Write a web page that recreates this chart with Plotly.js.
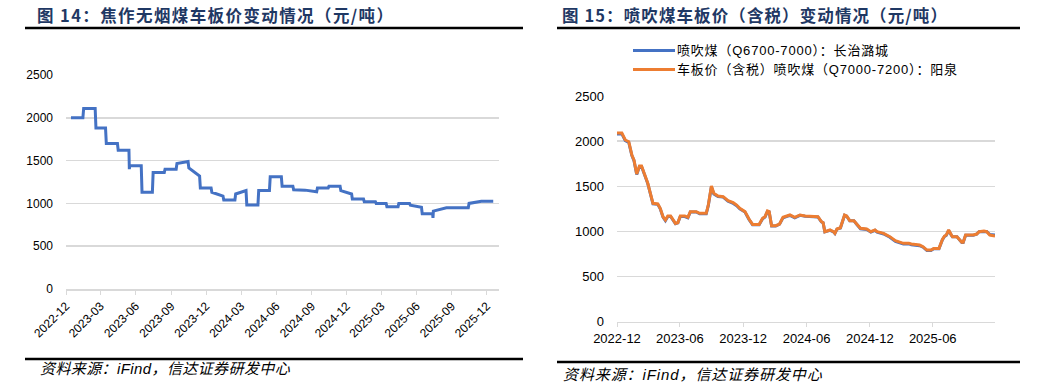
<!DOCTYPE html>
<html><head><meta charset="utf-8">
<script src="https://cdn.plot.ly/plotly-3.0.1.min.js"></script>
<style>
html,body{margin:0;padding:0;background:#fff;}
#chart{width:1043px;height:391px;}
</style>
</head><body><div id="chart"></div>
<script>
// ---- Data: Figure 14 (焦作无烟煤车板价, 元/吨)
const leftDates = ['2022-12-14','2023-01-14','2023-01-16','2023-02-15','2023-02-17','2023-03-14','2023-03-16','2023-04-14','2023-04-16','2023-05-14','2023-05-15','2023-05-16','2023-06-15','2023-06-17','2023-07-14','2023-07-16','2023-08-14','2023-08-16','2023-09-14','2023-09-16','2023-10-15','2023-10-17','2023-11-14','2023-11-16','2023-12-14','2023-12-16','2024-01-14','2024-01-16','2024-02-14','2024-02-16','2024-03-14','2024-03-16','2024-04-14','2024-04-16','2024-05-14','2024-05-16','2024-06-14','2024-06-16','2024-07-14','2024-07-16','2024-08-15','2024-09-14','2024-09-16','2024-10-14','2024-10-16','2024-11-14','2024-11-16','2024-12-14','2024-12-16','2025-01-14','2025-01-16','2025-02-14','2025-02-16','2025-03-14','2025-03-16','2025-04-14','2025-04-16','2025-05-14','2025-05-16','2025-06-14','2025-06-16','2025-07-13','2025-07-14','2025-07-15','2025-08-18','2025-10-14','2025-10-16','2025-11-17','2025-12-18'];
const leftValues = [2000,2000,2110,2110,1880,1880,1700,1700,1620,1620,1400,1440,1440,1130,1130,1360,1360,1400,1400,1465,1490,1415,1320,1180,1180,1130,1085,1040,1040,1110,1150,980,980,1150,1150,1310,1310,1200,1200,1160,1155,1135,1180,1180,1200,1200,1150,1110,1050,1050,1020,1020,1000,1000,960,960,1000,1000,980,955,880,880,830,910,950,950,1000,1025,1025];
const leftTickVals = ['2022-12-01','2023-03-01','2023-06-01','2023-09-01','2023-12-01','2024-03-01','2024-06-01','2024-09-01','2024-12-01','2025-03-01','2025-06-01','2025-09-01','2025-12-01'];
const leftTickText = ['2022-12','2023-03','2023-06','2023-09','2023-12','2024-03','2024-06','2024-09','2024-12','2025-03','2025-06','2025-09','2025-12'];

// ---- Data: Figure 15 (喷吹煤车板价（含税）, 元/吨)
const rightDates = ['2022-12-01','2022-12-15','2022-12-25','2023-01-04','2023-01-13','2023-01-19','2023-01-27','2023-02-04','2023-02-10','2023-02-19','2023-02-28','2023-03-15','2023-03-29','2023-04-05','2023-04-13','2023-04-20','2023-04-27','2023-05-05','2023-05-12','2023-05-19','2023-05-26','2023-06-02','2023-06-15','2023-06-24','2023-07-01','2023-07-18','2023-07-28','2023-08-16','2023-08-22','2023-08-31','2023-09-07','2023-09-19','2023-10-04','2023-10-18','2023-11-02','2023-11-12','2023-11-21','2023-12-06','2023-12-18','2023-12-28','2024-01-16','2024-01-26','2024-02-02','2024-02-09','2024-02-14','2024-02-21','2024-03-04','2024-03-15','2024-03-25','2024-04-14','2024-04-28','2024-05-13','2024-05-28','2024-07-04','2024-07-14','2024-07-19','2024-07-24','2024-08-08','2024-08-18','2024-08-22','2024-08-28','2024-09-07','2024-09-19','2024-09-25','2024-10-04','2024-10-16','2024-10-24','2024-11-04','2024-11-22','2024-12-04','2024-12-16','2024-12-22','2025-01-10','2025-01-28','2025-02-13','2025-02-27','2025-03-08','2025-03-24','2025-03-31','2025-04-24','2025-05-04','2025-05-15','2025-05-27','2025-06-04','2025-06-19','2025-06-29','2025-07-05','2025-07-10','2025-07-17','2025-07-25','2025-07-28','2025-08-10','2025-08-18','2025-08-24','2025-08-28','2025-09-04','2025-09-26','2025-10-06','2025-10-13','2025-10-27','2025-11-04','2025-11-13','2025-11-28'];
const changzhiValues = [2080,2080,2005,1985,1840,1785,1630,1720,1720,1620,1530,1305,1300,1250,1160,1120,1165,1165,1130,1085,1095,1165,1165,1150,1215,1215,1195,1195,1285,1495,1415,1385,1380,1335,1310,1285,1250,1215,1130,1075,1075,1140,1160,1220,1215,1060,1060,1080,1150,1178,1150,1178,1168,1160,1105,1095,995,1012,995,977,1025,1038,1178,1168,1117,1117,1080,1030,1022,992,1012,992,972,935,890,872,862,862,853,842,825,790,790,808,808,908,945,955,1010,955,940,940,910,877,877,957,957,970,997,1004,1000,965,960];
const yangquanValues = [2090,2090,2013,1994,1847,1791,1636,1725,1725,1625,1533,1311,1304,1256,1163,1126,1171,1171,1134,1089,1097,1171,1171,1156,1219,1219,1200,1200,1292,1503,1422,1392,1385,1340,1318,1292,1256,1219,1134,1078,1078,1145,1163,1226,1219,1064,1064,1082,1156,1182,1156,1182,1171,1163,1108,1097,997,1016,997,979,1027,1041,1182,1171,1119,1119,1082,1034,1027,997,1016,997,979,942,897,879,868,868,860,849,831,794,794,812,812,912,949,960,1016,960,942,942,912,879,879,960,960,971,997,1004,997,960,949];
const rightTickVals = ['2022-12-01','2023-06-01','2023-12-01','2024-06-01','2024-12-01','2025-06-01'];
const rightTickText = ['2022-12','2023-06','2023-12','2024-06','2024-12','2025-06'];

const seriesNames = ['喷吹煤（Q6700-7000）：长治潞城','车板价（含税）喷吹煤（Q7000-7200）：阳泉'];

// ---- helpers: pixel -> paper
const W = 1043, H = 391;
const px = x => x / W;
const py = y => 1 - y / H;

const BLUE = '#4472c4', ORANGE = '#ed7d31', GRID = '#d9d9d9';
const LATIN = 'Liberation Sans, Arial, Noto Sans CJK SC, sans-serif';
const CJK = 'Noto Sans CJK SC, Liberation Sans, sans-serif';

const traces = [
  {x: leftDates, y: leftValues, type: 'scatter', mode: 'lines', xaxis: 'x', yaxis: 'y',
   line: {color: BLUE, width: 3}, name: '焦作无烟煤'},
  {x: rightDates, y: changzhiValues, type: 'scatter', mode: 'lines', xaxis: 'x2', yaxis: 'y2',
   line: {color: BLUE, width: 3}, name: seriesNames[0]},
  {x: rightDates, y: yangquanValues, type: 'scatter', mode: 'lines', xaxis: 'x2', yaxis: 'y2',
   line: {color: ORANGE, width: 3}, name: seriesNames[1]}
];

// left x positions (px) and letter spacing for each annotation
const annLeft = [37, 562, 677, 677, 40, 563];
const annSpacing = [1.4, 1.1, 0.8, 0.8, 0.4, 0.9];

const layout = {
  width: W, height: H, margin: {l: 0, r: 0, t: 0, b: 0},
  paper_bgcolor: '#fff', plot_bgcolor: '#fff', showlegend: false,
  font: {family: LATIN, color: '#000', size: 12},
  xaxis: {domain: [px(66), px(499)], anchor: 'y', type: 'date', range: ['2022-12-01', '2026-01-02'],
    tickmode: 'array', tickvals: leftTickVals, ticktext: leftTickText, tickangle: -45,
    ticks: 'outside', ticklen: 4, tickcolor: GRID, showline: true, linecolor: GRID, linewidth: 1.5,
    showgrid: false, zeroline: false, tickfont: {size: 12, family: LATIN, color: '#000'}},
  yaxis: {domain: [py(289), py(75)], anchor: 'x', range: [0, 2500], dtick: 500, tick0: 0,
    showgrid: true, gridcolor: GRID, gridwidth: 1.5, showline: false, zeroline: false, ticks: '',
    ticklabelstandoff: 12, tickfont: {size: 12, family: LATIN, color: '#000'}},
  xaxis2: {domain: [px(617), px(995)], anchor: 'y2', type: 'date', range: ['2022-12-01', '2025-11-28'],
    tickmode: 'array', tickvals: rightTickVals, ticktext: rightTickText, tickangle: 0,
    ticks: 'outside', ticklen: 4, tickcolor: GRID, showline: true, linecolor: GRID, linewidth: 1.5,
    showgrid: false, zeroline: false, tickfont: {size: 13, family: LATIN, color: '#000'}},
  yaxis2: {domain: [py(321.7), py(96)], anchor: 'x2', range: [0, 2500], dtick: 500, tick0: 0,
    showgrid: true, gridcolor: GRID, gridwidth: 1.5, showline: false, zeroline: false, ticks: '',
    ticklabelstandoff: 12, tickfont: {size: 13, family: LATIN, color: '#000'}},
  shapes: [
    {type: 'line', xref: 'paper', yref: 'paper', x0: px(25), x1: px(523), y0: py(28), y1: py(28), line: {color: '#000', width: 2.5}},
    {type: 'line', xref: 'paper', yref: 'paper', x0: px(557), x1: px(1020), y0: py(28), y1: py(28), line: {color: '#000', width: 2.5}},
    {type: 'line', xref: 'paper', yref: 'paper', x0: px(25), x1: px(523), y0: py(359), y1: py(359), line: {color: '#000', width: 2.5}},
    {type: 'line', xref: 'paper', yref: 'paper', x0: px(557), x1: px(1020), y0: py(362), y1: py(362), line: {color: '#000', width: 2.5}},
    {type: 'line', xref: 'paper', yref: 'paper', x0: px(633), x1: px(675), y0: py(50.5), y1: py(50.5), line: {color: BLUE, width: 3}},
    {type: 'line', xref: 'paper', yref: 'paper', x0: px(633), x1: px(675), y0: py(69.5), y1: py(69.5), line: {color: ORANGE, width: 3}}
  ],
  annotations: [
    {xref: 'paper', yref: 'paper', x: px(annLeft[0]), y: py(15), xanchor: 'left', yanchor: 'middle', showarrow: false,
     text: '<b>图 14：焦作无烟煤车板价变动情况（元/吨）</b>', font: {family: CJK, size: 16.5, color: '#1f3864'}},
    {xref: 'paper', yref: 'paper', x: px(annLeft[1]), y: py(15), xanchor: 'left', yanchor: 'middle', showarrow: false,
     text: '<b>图 15：喷吹煤车板价（含税）变动情况（元/吨）</b>', font: {family: CJK, size: 16.5, color: '#1f3864'}},
    {xref: 'paper', yref: 'paper', x: px(annLeft[2]), y: py(50.5), xanchor: 'left', yanchor: 'middle', showarrow: false,
     text: seriesNames[0], font: {family: LATIN, size: 13, color: '#000'}},
    {xref: 'paper', yref: 'paper', x: px(annLeft[3]), y: py(69.5), xanchor: 'left', yanchor: 'middle', showarrow: false,
     text: seriesNames[1], font: {family: LATIN, size: 13, color: '#000'}},
    {xref: 'paper', yref: 'paper', x: px(annLeft[4]), y: py(368), xanchor: 'left', yanchor: 'middle', showarrow: false,
     text: '<i>资料来源：iFind，信达证券研发中心</i>', font: {family: LATIN, size: 15, color: '#000'}},
    {xref: 'paper', yref: 'paper', x: px(annLeft[5]), y: py(374), xanchor: 'left', yanchor: 'middle', showarrow: false,
     text: '<i>资料来源：iFind，信达证券研发中心</i>', font: {family: LATIN, size: 15, color: '#000'}}
  ]
};

Plotly.newPlot('chart', traces, layout, {displayModeBar: false, staticPlot: true}).then(() => {
  const anns = document.querySelectorAll('.annotation-text');
  const root = document.getElementById('chart').getBoundingClientRect();
  anns.forEach((el, i) => {
    el.style.letterSpacing = annSpacing[i] + 'px';
    el.setAttribute('text-anchor', 'start');
    const b = el.getBoundingClientRect();
    const dx = annLeft[i] - (b.left - root.left);
    const prev = el.getAttribute('transform') || '';
    el.setAttribute('transform', prev + ' translate(' + dx + ',0)');
  });
});
</script>
</body></html>
